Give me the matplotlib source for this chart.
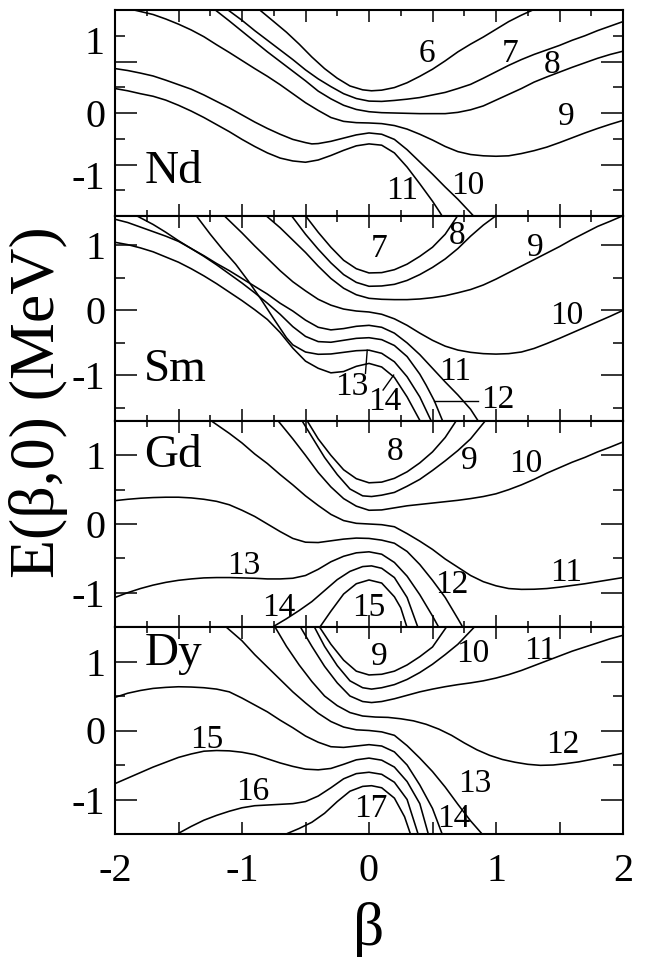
import matplotlib
matplotlib.use('Agg')
import matplotlib.pyplot as plt

plt.rcParams['font.family'] = ['Liberation Serif', 'DejaVu Serif']

# ---- curve data, (beta, E) ----------------------------------------------
nd_curves = {
    '6': [(-0.86, 1.60), (-0.75, 1.42), (-0.65, 1.255), (-0.55, 1.07), (-0.45, 0.87), (-0.35, 0.69),
          (-0.25, 0.54), (-0.15, 0.42), (-0.05, 0.36), (0.02, 0.345), (0.1, 0.355), (0.2, 0.395),
          (0.3, 0.47), (0.4, 0.57), (0.5, 0.68), (0.6, 0.81), (0.7, 0.95), (0.8, 1.07), (0.9, 1.18),
          (1.0, 1.30), (1.1, 1.42), (1.2, 1.52), (1.29, 1.60)],
    '7': [(-1.11, 1.60), (-1.0, 1.44), (-0.9, 1.28), (-0.8, 1.13), (-0.7, 0.98), (-0.6, 0.83),
          (-0.5, 0.67), (-0.4, 0.53), (-0.3, 0.41), (-0.2, 0.30), (-0.1, 0.225), (0.0, 0.185),
          (0.1, 0.18), (0.2, 0.195), (0.3, 0.215), (0.4, 0.24), (0.5, 0.28), (0.6, 0.32), (0.7, 0.38),
          (0.8, 0.445), (0.9, 0.54), (1.0, 0.64), (1.1, 0.74), (1.2, 0.83), (1.3, 0.91), (1.4, 0.98),
          (1.5, 1.05), (1.6, 1.13), (1.7, 1.20), (1.8, 1.28), (1.9, 1.35), (2.0, 1.42)],
    '8': [(-1.21, 1.60), (-1.1, 1.43), (-1.0, 1.27), (-0.9, 1.11), (-0.8, 0.95), (-0.7, 0.80),
          (-0.6, 0.65), (-0.5, 0.50), (-0.4, 0.34), (-0.3, 0.22), (-0.2, 0.12), (-0.1, 0.055),
          (0.0, 0.02), (0.1, 0.005), (0.2, 0.0), (0.3, -0.005), (0.4, -0.01), (0.5, -0.01),
          (0.6, -0.01), (0.7, 0.01), (0.8, 0.05), (0.9, 0.11), (1.0, 0.20), (1.1, 0.29), (1.2, 0.38),
          (1.3, 0.48), (1.4, 0.56), (1.5, 0.635), (1.6, 0.71), (1.7, 0.78), (1.8, 0.85), (1.9, 0.91),
          (2.0, 0.96)],
    '9': [(-1.85, 1.60), (-1.7, 1.53), (-1.6, 1.46), (-1.5, 1.38), (-1.4, 1.29), (-1.3, 1.185),
          (-1.2, 1.06), (-1.1, 0.94), (-1.0, 0.815), (-0.9, 0.69), (-0.8, 0.57), (-0.7, 0.44),
          (-0.6, 0.30), (-0.5, 0.16), (-0.4, 0.04), (-0.3, -0.07), (-0.2, -0.13), (-0.1, -0.15),
          (0.0, -0.155), (0.1, -0.165), (0.2, -0.195), (0.3, -0.25), (0.4, -0.33), (0.5, -0.42),
          (0.6, -0.52), (0.7, -0.60), (0.8, -0.645), (0.9, -0.665), (1.0, -0.672), (1.1, -0.665),
          (1.2, -0.63), (1.3, -0.585), (1.4, -0.53), (1.5, -0.46), (1.6, -0.385), (1.7, -0.31),
          (1.8, -0.24), (1.9, -0.175), (2.0, -0.115)],
    '10': [(-2.0, 0.69), (-1.9, 0.66), (-1.8, 0.62), (-1.7, 0.575), (-1.6, 0.51), (-1.5, 0.44),
           (-1.4, 0.37), (-1.3, 0.28), (-1.2, 0.18), (-1.1, 0.08), (-1.0, -0.03), (-0.9, -0.14),
           (-0.8, -0.24), (-0.7, -0.33), (-0.6, -0.41), (-0.5, -0.46), (-0.45, -0.48), (-0.4, -0.475),
           (-0.3, -0.44), (-0.2, -0.39), (-0.1, -0.34), (0.0, -0.31), (0.1, -0.33), (0.2, -0.41),
           (0.3, -0.57), (0.4, -0.76), (0.5, -0.95), (0.6, -1.15), (0.7, -1.34), (0.8, -1.55),
           (0.86, -1.68)],
    '11': [(-2.0, 0.38), (-1.9, 0.345), (-1.8, 0.30), (-1.7, 0.26), (-1.6, 0.20), (-1.5, 0.12),
           (-1.4, 0.03), (-1.3, -0.07), (-1.2, -0.18), (-1.1, -0.29), (-1.0, -0.41), (-0.9, -0.52),
           (-0.8, -0.62), (-0.7, -0.70), (-0.6, -0.745), (-0.5, -0.765), (-0.4, -0.73), (-0.3, -0.66),
           (-0.2, -0.58), (-0.1, -0.51), (0.0, -0.48), (0.1, -0.50), (0.2, -0.62), (0.3, -0.84),
           (0.4, -1.10), (0.5, -1.37), (0.56, -1.55), (0.6, -1.68)],
}
nd_labels = {'6': (0.458, 0.927), '7': (1.111, 0.927), '8': (1.444, 0.745),
             '9': (1.556, -0.063), '10': (0.778, -1.13), '11': (0.264, -1.208)}

sm_curves = {
    '7': [(-0.5, 1.454), (-0.4, 1.20), (-0.3, 0.97), (-0.2, 0.77), (-0.1, 0.64), (0.0, 0.575),
          (0.1, 0.58), (0.2, 0.625), (0.3, 0.71), (0.4, 0.83), (0.5, 0.97), (0.6, 1.17), (0.7, 1.46)],
    '8': [(-0.61, 1.454), (-0.5, 1.17), (-0.4, 0.94), (-0.3, 0.73), (-0.2, 0.55), (-0.1, 0.43),
          (0.0, 0.37), (0.1, 0.375), (0.2, 0.40), (0.3, 0.46), (0.4, 0.55), (0.5, 0.66), (0.6, 0.79),
          (0.7, 0.95), (0.8, 1.14), (0.9, 1.31), (1.0, 1.454)],
    '9': [(-0.81, 1.454), (-0.7, 1.27), (-0.6, 1.08), (-0.5, 0.89), (-0.4, 0.68), (-0.3, 0.49),
          (-0.2, 0.34), (-0.1, 0.24), (0.0, 0.185), (0.1, 0.17), (0.2, 0.165), (0.3, 0.165),
          (0.4, 0.175), (0.5, 0.195), (0.6, 0.225), (0.7, 0.27), (0.8, 0.32), (0.9, 0.39), (1.0, 0.48),
          (1.1, 0.58), (1.2, 0.68), (1.3, 0.78), (1.4, 0.88), (1.5, 0.98), (1.6, 1.09), (1.7, 1.19),
          (1.8, 1.29), (1.9, 1.37), (2.0, 1.454)],
    '10': [(-1.14, 1.454), (-1.0, 1.19), (-0.9, 0.99), (-0.8, 0.80), (-0.7, 0.61), (-0.6, 0.44),
           (-0.5, 0.30), (-0.4, 0.17), (-0.3, 0.08), (-0.2, 0.02), (-0.1, -0.01), (0.0, -0.025),
           (0.1, -0.06), (0.2, -0.13), (0.3, -0.23), (0.4, -0.35), (0.5, -0.46), (0.6, -0.55),
           (0.7, -0.61), (0.8, -0.645), (0.9, -0.665), (1.0, -0.672), (1.1, -0.665), (1.2, -0.64),
           (1.3, -0.585), (1.4, -0.51), (1.5, -0.43), (1.6, -0.345), (1.7, -0.26), (1.8, -0.175),
           (1.9, -0.09), (2.0, 0.0)],
    '11': [(-1.83, 1.454), (-1.7, 1.32), (-1.6, 1.20), (-1.5, 1.07), (-1.4, 0.95), (-1.3, 0.84),
           (-1.2, 0.72), (-1.1, 0.61), (-1.0, 0.49), (-0.9, 0.37), (-0.8, 0.25), (-0.7, 0.11),
           (-0.6, -0.01), (-0.5, -0.15), (-0.4, -0.26), (-0.3, -0.30), (-0.2, -0.28), (-0.1, -0.245),
           (0.0, -0.23), (0.1, -0.26), (0.2, -0.35), (0.3, -0.50), (0.4, -0.68), (0.5, -0.89),
           (0.6, -1.10), (0.7, -1.30), (0.8, -1.52), (0.86, -1.70)],
    '12': [(-2.0, 1.40), (-1.9, 1.35), (-1.8, 1.28), (-1.7, 1.21), (-1.6, 1.14), (-1.5, 1.06),
           (-1.4, 0.95), (-1.3, 0.83), (-1.2, 0.70), (-1.1, 0.56), (-1.0, 0.42), (-0.9, 0.27),
           (-0.8, 0.11), (-0.7, -0.06), (-0.6, -0.25), (-0.5, -0.40), (-0.4, -0.48), (-0.3, -0.49),
           (-0.2, -0.46), (-0.1, -0.43), (0.0, -0.42), (0.1, -0.45), (0.2, -0.54), (0.3, -0.71),
           (0.4, -0.98), (0.45, -1.15), (0.514, -1.388), (0.58, -1.70)],
    '13': [(-1.36, 1.454), (-1.25, 1.17), (-1.15, 0.93), (-1.05, 0.71), (-0.95, 0.45), (-0.85, 0.17),
           (-0.75, -0.13), (-0.65, -0.42), (-0.6, -0.53), (-0.5, -0.64), (-0.4, -0.675), (-0.3, -0.67),
           (-0.2, -0.645), (-0.1, -0.62), (0.0, -0.612), (0.1, -0.66), (0.2, -0.79), (0.3, -1.02),
           (0.4, -1.33), (0.49, -1.70)],
    '14': [(-2.0, 1.046), (-1.9, 1.01), (-1.8, 0.96), (-1.7, 0.90), (-1.6, 0.82), (-1.5, 0.74),
           (-1.4, 0.64), (-1.3, 0.53), (-1.2, 0.41), (-1.1, 0.28), (-1.0, 0.15), (-0.9, 0.01),
           (-0.8, -0.14), (-0.7, -0.34), (-0.6, -0.58), (-0.5, -0.78), (-0.4, -0.89), (-0.3, -0.96),
           (-0.2, -0.94), (-0.1, -0.86), (0.0, -0.815), (0.1, -0.87), (0.2, -1.03), (0.3, -1.33),
           (0.4, -1.69)],
}
sm_labels = {'7': (0.083, 0.944), '8': (0.694, 1.148), '9': (1.306, 0.969),
             '10': (1.556, -0.077), '11': (0.681, -0.944), '12': (1.014, -1.378),
             '13': (-0.139, -1.173), '14': (0.125, -1.403)}
sm_leaders = [[(0.514, -1.388), (0.861, -1.388)],
              [(-0.014, -0.612), (-0.028, -0.969)],
              [(0.111, -1.224), (0.194, -0.995)]]

gd_curves = {
    '8': [(-0.49, 1.512), (-0.4, 1.24), (-0.3, 1.00), (-0.2, 0.79), (-0.1, 0.66), (0.0, 0.60),
          (0.1, 0.61), (0.2, 0.665), (0.3, 0.76), (0.4, 0.89), (0.5, 1.05), (0.6, 1.26), (0.69, 1.512)],
    '9': [(-0.53, 1.512), (-0.45, 1.27), (-0.35, 0.97), (-0.25, 0.72), (-0.15, 0.51), (-0.05, 0.41),
          (0.02, 0.40), (0.1, 0.42), (0.2, 0.46), (0.3, 0.55), (0.4, 0.65), (0.5, 0.78), (0.6, 0.92),
          (0.7, 1.07), (0.8, 1.24), (0.92, 1.512)],
    '10': [(-0.72, 1.512), (-0.6, 1.24), (-0.5, 1.00), (-0.4, 0.75), (-0.3, 0.54), (-0.2, 0.37),
           (-0.1, 0.26), (0.0, 0.20), (0.1, 0.205), (0.2, 0.235), (0.3, 0.265), (0.4, 0.285),
           (0.5, 0.305), (0.6, 0.325), (0.7, 0.345), (0.8, 0.37), (0.9, 0.40), (1.0, 0.44), (1.1, 0.50),
           (1.2, 0.57), (1.3, 0.65), (1.4, 0.74), (1.5, 0.82), (1.6, 0.90), (1.7, 0.97), (1.8, 1.05),
           (1.9, 1.12), (2.0, 1.195)],
    '11': [(-1.25, 1.512), (-1.1, 1.32), (-1.0, 1.18), (-0.9, 1.02), (-0.8, 0.88), (-0.7, 0.72),
           (-0.6, 0.57), (-0.5, 0.41), (-0.4, 0.27), (-0.3, 0.14), (-0.2, 0.05), (-0.1, 0.01),
           (0.0, 0.0), (0.1, -0.01), (0.2, -0.04), (0.3, -0.14), (0.4, -0.25), (0.5, -0.37),
           (0.6, -0.51), (0.7, -0.63), (0.8, -0.75), (0.9, -0.84), (1.0, -0.90), (1.1, -0.94),
           (1.2, -0.952), (1.3, -0.95), (1.4, -0.94), (1.5, -0.92), (1.6, -0.895), (1.7, -0.87),
           (1.8, -0.84), (1.9, -0.81), (2.0, -0.78)],
    '12': [(-2.0, 0.34), (-1.9, 0.36), (-1.8, 0.375), (-1.7, 0.385), (-1.6, 0.39), (-1.5, 0.39),
           (-1.4, 0.38), (-1.3, 0.36), (-1.2, 0.33), (-1.1, 0.28), (-1.0, 0.20), (-0.9, 0.11),
           (-0.8, 0.0), (-0.7, -0.11), (-0.6, -0.21), (-0.5, -0.265), (-0.4, -0.27), (-0.3, -0.245),
           (-0.2, -0.22), (-0.1, -0.205), (0.0, -0.21), (0.1, -0.235), (0.2, -0.28), (0.3, -0.40),
           (0.4, -0.59), (0.5, -0.82), (0.6, -1.07), (0.7, -1.38), (0.75, -1.54)],
    '13': [(-2.0, -1.07), (-1.9, -1.00), (-1.8, -0.94), (-1.7, -0.89), (-1.6, -0.85), (-1.5, -0.82),
           (-1.4, -0.80), (-1.3, -0.785), (-1.2, -0.78), (-1.1, -0.78), (-1.0, -0.785), (-0.9, -0.79),
           (-0.8, -0.80), (-0.7, -0.80), (-0.6, -0.79), (-0.5, -0.75), (-0.4, -0.66), (-0.3, -0.55),
           (-0.2, -0.47), (-0.1, -0.42), (0.0, -0.405), (0.1, -0.44), (0.2, -0.56), (0.3, -0.76),
           (0.4, -1.03), (0.5, -1.34), (0.56, -1.54)],
    '14': [(-0.75, -1.49), (-0.65, -1.38), (-0.55, -1.26), (-0.45, -1.13), (-0.35, -0.97),
           (-0.25, -0.81), (-0.15, -0.69), (-0.05, -0.62), (0.02, -0.61), (0.1, -0.645), (0.2, -0.78),
           (0.3, -1.07), (0.39, -1.53)],
    '15': [(-0.39, -1.51), (-0.3, -1.27), (-0.2, -1.02), (-0.1, -0.87), (0.0, -0.815), (0.1, -0.86),
           (0.2, -1.06), (0.25, -1.22), (0.3, -1.51)],
}
gd_labels = {'8': (0.208, 1.049), '9': (0.792, 0.927), '10': (1.236, 0.878),
             '11': (1.556, -0.707), '12': (0.653, -0.878), '13': (-0.986, -0.610),
             '14': (-0.708, -1.220), '15': (0.0, -1.220)}

dy_curves = {
    '9': [(-0.39, 1.50), (-0.3, 1.25), (-0.2, 1.02), (-0.1, 0.86), (0.0, 0.805), (0.1, 0.815),
          (0.2, 0.86), (0.3, 0.95), (0.4, 1.07), (0.5, 1.21), (0.61, 1.50)],
    '10': [(-0.43, 1.50), (-0.35, 1.22), (-0.25, 0.94), (-0.15, 0.72), (-0.05, 0.62), (0.02, 0.60),
           (0.1, 0.62), (0.2, 0.665), (0.3, 0.74), (0.4, 0.84), (0.5, 0.96), (0.6, 1.10), (0.7, 1.25),
           (0.83, 1.50)],
    '11': [(-0.54, 1.50), (-0.45, 1.22), (-0.35, 0.93), (-0.25, 0.69), (-0.15, 0.50), (-0.05, 0.42),
           (0.02, 0.405), (0.1, 0.42), (0.2, 0.46), (0.3, 0.51), (0.4, 0.56), (0.5, 0.60), (0.6, 0.635),
           (0.7, 0.665), (0.8, 0.69), (0.9, 0.72), (1.0, 0.76), (1.1, 0.81), (1.2, 0.87), (1.3, 0.94),
           (1.4, 1.01), (1.5, 1.08), (1.6, 1.15), (1.7, 1.21), (1.8, 1.27), (1.9, 1.33), (2.0, 1.38)],
    '12': [(-0.74, 1.50), (-0.65, 1.22), (-0.55, 0.95), (-0.45, 0.71), (-0.35, 0.50), (-0.25, 0.36),
           (-0.15, 0.26), (-0.05, 0.21), (0.05, 0.195), (0.15, 0.19), (0.25, 0.17), (0.35, 0.14),
           (0.45, 0.09), (0.55, 0.02), (0.65, -0.07), (0.75, -0.18), (0.85, -0.28), (0.95, -0.36),
           (1.05, -0.42), (1.15, -0.46), (1.25, -0.49), (1.35, -0.505), (1.45, -0.50), (1.55, -0.48),
           (1.65, -0.455), (1.75, -0.42), (1.85, -0.385), (2.0, -0.33)],
    '13': [(-1.125, 1.50), (-1.0, 1.30), (-0.9, 1.10), (-0.8, 0.92), (-0.7, 0.74), (-0.6, 0.56),
           (-0.5, 0.40), (-0.4, 0.25), (-0.3, 0.13), (-0.2, 0.05), (-0.1, 0.01), (0.0, 0.0),
           (0.1, -0.02), (0.2, -0.07), (0.3, -0.22), (0.4, -0.40), (0.5, -0.595), (0.6, -0.82),
           (0.7, -1.07), (0.8, -1.31), (0.9, -1.52)],
    '14': [(-2.0, 0.48), (-1.9, 0.54), (-1.8, 0.58), (-1.7, 0.61), (-1.6, 0.625), (-1.5, 0.634),
           (-1.4, 0.63), (-1.3, 0.62), (-1.2, 0.60), (-1.1, 0.56), (-1.0, 0.47), (-0.9, 0.37),
           (-0.8, 0.27), (-0.7, 0.15), (-0.6, 0.04), (-0.5, -0.08), (-0.4, -0.17), (-0.3, -0.235),
           (-0.2, -0.245), (-0.1, -0.225), (0.0, -0.205), (0.1, -0.225), (0.2, -0.31), (0.3, -0.50),
           (0.4, -0.79), (0.5, -1.13), (0.58, -1.52)],
    '15': [(-2.0, -0.77), (-1.9, -0.69), (-1.8, -0.61), (-1.7, -0.53), (-1.6, -0.46), (-1.5, -0.39),
           (-1.4, -0.34), (-1.3, -0.30), (-1.2, -0.29), (-1.1, -0.295), (-1.0, -0.315), (-0.9, -0.35),
           (-0.8, -0.41), (-0.7, -0.47), (-0.6, -0.52), (-0.5, -0.56), (-0.4, -0.57), (-0.3, -0.55),
           (-0.2, -0.49), (-0.1, -0.425), (0.0, -0.40), (0.1, -0.43), (0.2, -0.53), (0.3, -0.74),
           (0.4, -1.06), (0.47, -1.52)],
    '16': [(-1.5, -1.49), (-1.4, -1.39), (-1.3, -1.30), (-1.2, -1.23), (-1.1, -1.17), (-1.0, -1.12),
           (-0.9, -1.09), (-0.8, -1.08), (-0.7, -1.07), (-0.6, -1.06), (-0.5, -1.03), (-0.4, -0.95),
           (-0.3, -0.83), (-0.2, -0.70), (-0.1, -0.625), (0.0, -0.605), (0.1, -0.635), (0.2, -0.75),
           (0.3, -1.0), (0.39, -1.52)],
    '17': [(-0.64, -1.49), (-0.55, -1.42), (-0.45, -1.33), (-0.35, -1.20), (-0.25, -1.03),
           (-0.15, -0.88), (-0.05, -0.81), (0.02, -0.80), (0.1, -0.83), (0.2, -0.98), (0.28, -1.25),
           (0.33, -1.52)],
}
dy_labels = {'9': (0.083, 1.063), '10': (0.819, 1.112), '11': (1.347, 1.161),
             '12': (1.528, -0.205), '13': (0.833, -0.766), '14': (0.667, -1.278),
             '15': (-1.278, -0.132), '16': (-0.917, -0.888), '17': (0.014, -1.132)}

panels = [
    ('Nd', nd_curves, nd_labels, [], (-1.6, 1.6), -0.92),
    ('Sm', sm_curves, sm_labels, sm_leaders, (-1.70, 1.45), -0.92),
    ('Gd', gd_curves, gd_labels, [], (-1.5, 1.5), 1.0),
    ('Dy', dy_curves, dy_labels, [], (-1.5, 1.5), 1.11),
]

fig = plt.figure(figsize=(6.47, 9.57), dpi=100)
W, H = 647.0, 957.0
left, right = 115 / W, 623 / W
edges = [10, 216, 421, 627, 834]

for i, (name, curves, labels, leaders, ylim, name_y) in enumerate(panels):
    ax = fig.add_axes([left, 1 - edges[i + 1] / H, right - left, (edges[i + 1] - edges[i]) / H])
    for key, pts in curves.items():
        b, e = zip(*pts)
        ax.plot(b, e, color='black', lw=1.15, solid_joinstyle='round')
    for key, (b, e) in labels.items():
        ax.text(b, e, key, fontsize=24, ha='center', va='center')
    for seg in leaders:
        b, e = zip(*seg)
        ax.plot(b, e, color='black', lw=1.0)
    ax.text(-1.77, name_y, name, fontsize=34, ha='left', va='center')

    ax.set_xlim(-2, 2)
    ax.set_ylim(*ylim)
    ax.set_xticks([-2, -1.5, -1, -0.5, 0, 0.5, 1, 1.5, 2])
    ax.set_xticks([-1.75, -1.25, -0.75, -0.25, 0.25, 0.75, 1.25, 1.75], minor=True)
    if name == 'Nd':
        # this panel's ticks sit 0.4 apart; the 1 and -1 labels stand off them
        ax.set_yticks([-0.8, 0, 0.8], ['', '0', ''])
        ax.set_yticks([-1.2, -0.4, 0.4, 1.2], minor=True)
        ax.text(-0.02, 1.07, '1', transform=ax.get_yaxis_transform(), fontsize=29,
                ha='right', va='center')
        ax.text(-0.02, -1.03, '-1', transform=ax.get_yaxis_transform(), fontsize=29,
                ha='right', va='center')
    else:
        ax.set_yticks([-1, 0, 1], ['-1', '0', '1'])
        ax.set_yticks([t for t in (-1.5, -0.5, 0.5, 1.5) if ylim[0] < t < ylim[1]], minor=True)

    ax.tick_params(axis='y', which='major', direction='in', length=16, width=1.1,
                   left=True, right=True, labelsize=29, pad=7)
    ax.tick_params(axis='y', which='minor', direction='in', length=7.5, width=1.1,
                   left=True, right=True)
    ax.tick_params(axis='x', which='major', direction='in', length=8.5, width=1.1,
                   top=True, bottom=True, labelsize=29, pad=14)
    ax.tick_params(axis='x', which='minor', direction='in', length=4, width=1.1,
                   top=True, bottom=True)
    for s in ax.spines.values():
        s.set_linewidth(1.5)

    if i < 3:
        ax.tick_params(axis='x', labelbottom=False)
    else:
        ax.set_xticks([-2, -1.5, -1, -0.5, 0, 0.5, 1, 1.5, 2],
                      ['-2', '', '-1', '', '0', '', '1', '', '2'])
        ax.tick_params(axis='x', which='minor', bottom=False)

fig.text(39 / W, 1 - 402 / H, 'E(β,0) (MeV)', rotation=90, fontsize=46,
         ha='center', va='center')
fig.text(369 / W, 1 - 930 / H, 'β', fontsize=44, ha='center', va='center')

fig.savefig('out.png', dpi=100)
